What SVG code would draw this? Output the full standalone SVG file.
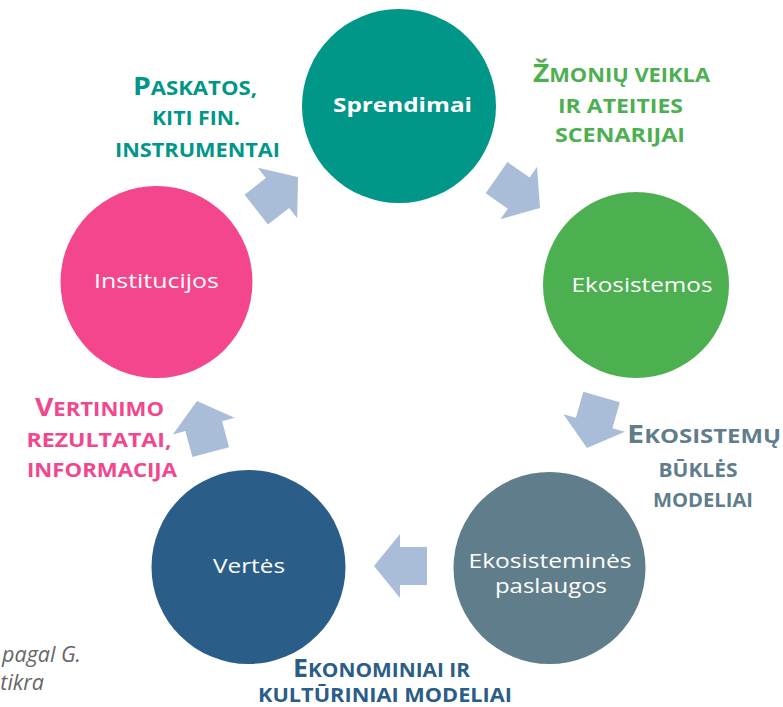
<svg xmlns="http://www.w3.org/2000/svg" width="783" height="707" viewBox="0 0 783 707">
<defs>
<style>
.ct{font-family:"Open Sans","Liberation Sans",sans-serif;font-size:20px;fill:#ffffff;text-anchor:middle;}
.lb{font-family:"Open Sans","Liberation Sans",sans-serif;font-weight:700;font-size:19.5px;text-anchor:middle;}
.big{font-size:25px;}
.arr{fill:#AABDD8;}
.note{font-family:"Open Sans","Liberation Sans",sans-serif;font-style:italic;font-size:21.5px;fill:#666666;text-anchor:end;}
</style>
<path id="arrow" d="M0,0 L-26,-32 L-26,-19 L-53,-19 L-53,19 L-26,19 L-26,32 Z"/>
</defs>
<rect width="783" height="707" fill="#ffffff"/>

<g id="connectors">
<use href="#arrow" class="arr" transform="translate(298,177) rotate(-38)"/>
<use href="#arrow" class="arr" transform="translate(540,208) rotate(35)"/>
<use href="#arrow" class="arr" transform="translate(587,448) rotate(106)"/>
<use href="#arrow" class="arr" transform="translate(374,566) rotate(180)"/>
<use href="#arrow" class="arr" transform="translate(197,401) rotate(-105)"/>
</g>

<g id="sprendimai">
<circle cx="399" cy="106" r="97" fill="#009688"/>
<text class="ct" x="402.5" y="112" font-weight="700" textLength="139" lengthAdjust="spacingAndGlyphs">Sprendimai</text>
</g>
<g id="ekosistemos">
<circle cx="636" cy="285" r="93" fill="#4CAF50"/>
<text class="ct" x="642" y="292" textLength="141" lengthAdjust="spacingAndGlyphs">Ekosistemos</text>
</g>
<g id="paslaugos">
<circle cx="549.5" cy="568" r="96" fill="#607D8B"/>
<text class="ct" x="550" y="568" textLength="163" lengthAdjust="spacingAndGlyphs">Ekosisteminės</text>
<text class="ct" x="551" y="593" textLength="112" lengthAdjust="spacingAndGlyphs">paslaugos</text>
</g>
<g id="vertes">
<circle cx="248.5" cy="567" r="97" fill="#2A5D87"/>
<text class="ct" x="249" y="573" textLength="72" lengthAdjust="spacingAndGlyphs">Vertės</text>
</g>
<g id="institucijos">
<circle cx="156.5" cy="282" r="96" fill="#F3468C"/>
<text class="ct" x="156.5" y="288" textLength="125" lengthAdjust="spacingAndGlyphs">Institucijos</text>
</g>

<g id="label-paskatos" fill="#009688">
<text class="lb" x="195" y="95" textLength="124" lengthAdjust="spacingAndGlyphs"><tspan class="big">P</tspan>ASKATOS,</text>
<text class="lb" x="196" y="125" textLength="88" lengthAdjust="spacingAndGlyphs">KITI FIN.</text>
<text class="lb" x="197.5" y="157" textLength="165" lengthAdjust="spacingAndGlyphs">INSTRUMENTAI</text>
</g>
<g id="label-zmoniu" fill="#4CAF50">
<text class="lb" x="621.5" y="82" textLength="177" lengthAdjust="spacingAndGlyphs"><tspan class="big">Ž</tspan>MONIŲ VEIKLA</text>
<text class="lb" x="620.5" y="113" textLength="125" lengthAdjust="spacingAndGlyphs">IR ATEITIES</text>
<text class="lb" x="620" y="142" textLength="130" lengthAdjust="spacingAndGlyphs">SCENARIJAI</text>
</g>
<g id="label-ekosistemu" fill="#607D8B">
<text class="lb" x="704" y="443" textLength="154" lengthAdjust="spacingAndGlyphs"><tspan class="big">E</tspan>KOSISTEMŲ</text>
<text class="lb" x="698" y="477" textLength="79" lengthAdjust="spacingAndGlyphs">BŪKLĖS</text>
<text class="lb" x="703" y="507" textLength="100" lengthAdjust="spacingAndGlyphs">MODELIAI</text>
</g>
<g id="label-vertinimo" fill="#F0478E">
<text class="lb" x="99.5" y="416" textLength="129" lengthAdjust="spacingAndGlyphs"><tspan class="big">V</tspan>ERTINIMO</text>
<text class="lb" x="99" y="447" textLength="145" lengthAdjust="spacingAndGlyphs">REZULTATAI,</text>
<text class="lb" x="102" y="477" textLength="150" lengthAdjust="spacingAndGlyphs">INFORMACIJA</text>
</g>
<g id="label-ekonominiai" fill="#2A5D87">
<text class="lb" x="381.5" y="677" textLength="177" lengthAdjust="spacingAndGlyphs"><tspan class="big">E</tspan>KONOMINIAI IR</text>
<text class="lb" x="385" y="702" textLength="254" lengthAdjust="spacingAndGlyphs">KULTŪRINIAI MODELIAI</text>
</g>

<g id="note">
<text class="note" x="81" y="662">pagal G.</text>
<text class="note" x="44" y="690">tikra</text>
</g>
</svg>
